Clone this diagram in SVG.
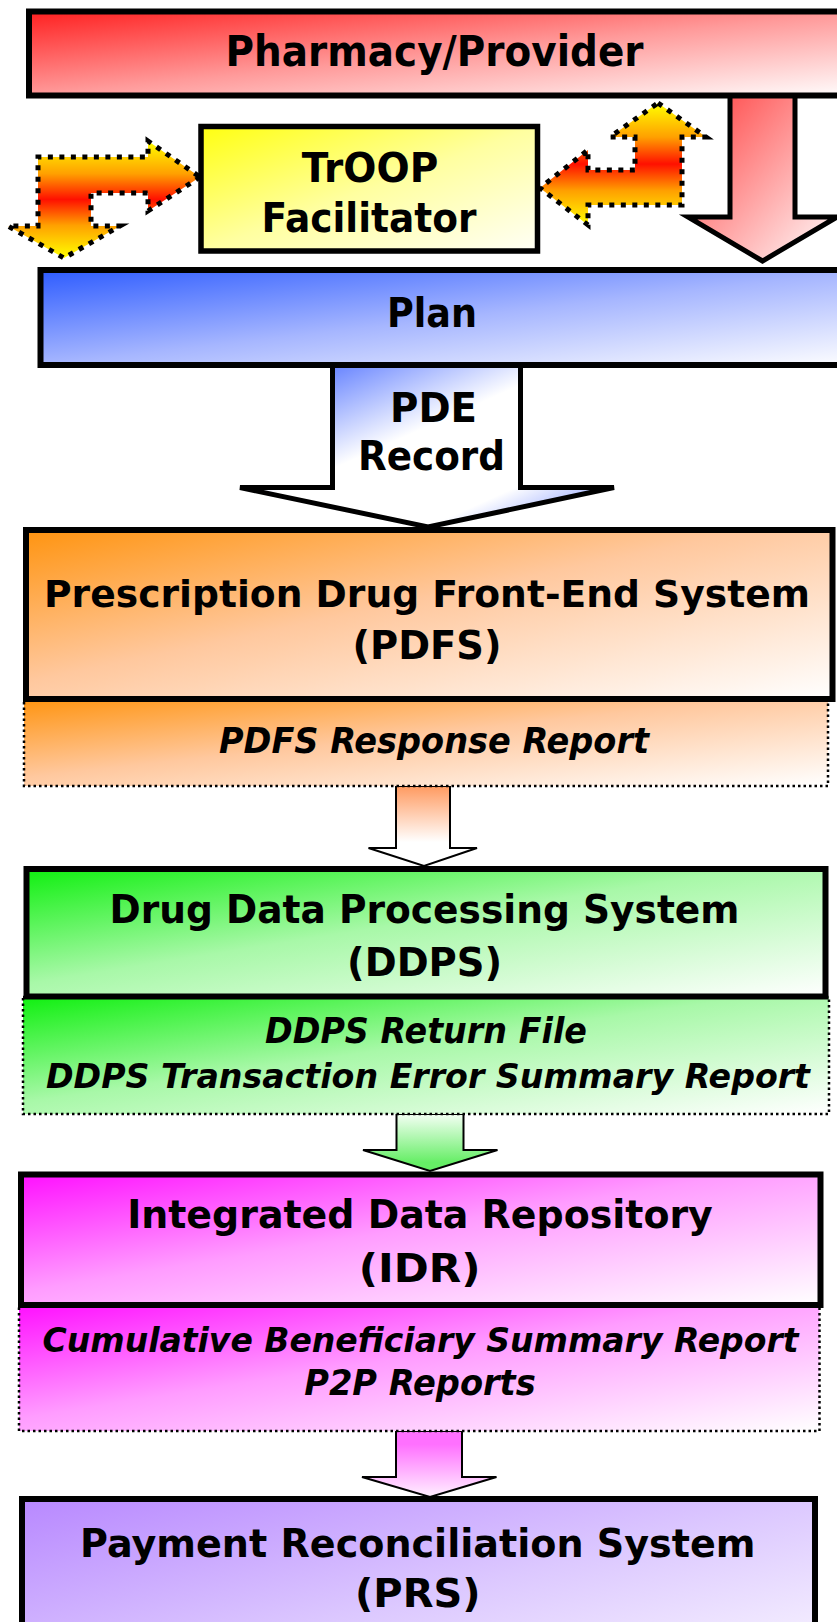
<svg xmlns="http://www.w3.org/2000/svg" width="837" height="1622" viewBox="0 0 837 1622">
  <defs>
    <linearGradient id="gRed" x1="0" y1="0" x2="1" y2="1">
      <stop offset="0" stop-color="#ff2020"/>
      <stop offset="0.5" stop-color="#ff9a9a"/>
      <stop offset="1" stop-color="#ffffff"/>
    </linearGradient>
    <linearGradient id="gRedArrow" x1="0" y1="0" x2="1" y2="1">
      <stop offset="0" stop-color="#ff3a3a"/>
      <stop offset="1" stop-color="#ffffff"/>
    </linearGradient>
    <linearGradient id="gYellow" x1="0" y1="0" x2="1" y2="1">
      <stop offset="0" stop-color="#ffff10"/>
      <stop offset="0.5" stop-color="#ffffa0"/>
      <stop offset="1" stop-color="#fffff6"/>
    </linearGradient>
    <linearGradient id="gBlue" x1="0" y1="0" x2="1" y2="1">
      <stop offset="0" stop-color="#2e5cff"/>
      <stop offset="0.5" stop-color="#a6b6ff"/>
      <stop offset="1" stop-color="#ffffff"/>
    </linearGradient>
    <linearGradient id="gBlueArrow" x1="0" y1="0" x2="1" y2="1">
      <stop offset="0.08" stop-color="#4a6cff"/>
      <stop offset="0.45" stop-color="#ffffff"/>
      <stop offset="0.75" stop-color="#ffffff"/>
      <stop offset="0.95" stop-color="#7f95ff"/>
    </linearGradient>
    <linearGradient id="gOrange" x1="0" y1="0" x2="1" y2="1">
      <stop offset="0" stop-color="#ff9410"/>
      <stop offset="0.45" stop-color="#ffc89e"/>
      <stop offset="1" stop-color="#ffffff"/>
    </linearGradient>
    <linearGradient id="gGreen" x1="0" y1="0" x2="1" y2="1">
      <stop offset="0" stop-color="#10f010"/>
      <stop offset="0.45" stop-color="#a8f8a8"/>
      <stop offset="1" stop-color="#ffffff"/>
    </linearGradient>
    <linearGradient id="gMagenta" x1="0" y1="0" x2="1" y2="1">
      <stop offset="0" stop-color="#ff10ff"/>
      <stop offset="0.45" stop-color="#ff9cff"/>
      <stop offset="1" stop-color="#ffffff"/>
    </linearGradient>
    <linearGradient id="gPurple" x1="0" y1="0" x2="1" y2="1">
      <stop offset="0" stop-color="#b888ff"/>
      <stop offset="0.5" stop-color="#dcc8ff"/>
      <stop offset="1" stop-color="#ffffff"/>
    </linearGradient>
    <!-- yellow / red / yellow band for the facilitator exchange arrows -->
    <linearGradient id="gFlame" x1="0" y1="0" x2="0" y2="1">
      <stop offset="0" stop-color="#ffff00"/>
      <stop offset="0.28" stop-color="#ffa000"/>
      <stop offset="0.5" stop-color="#ff1000"/>
      <stop offset="0.72" stop-color="#ffa000"/>
      <stop offset="1" stop-color="#ffff00"/>
    </linearGradient>
    <linearGradient id="gSmallOrange" x1="0" y1="0" x2="0" y2="1">
      <stop offset="0" stop-color="#ff9a60"/>
      <stop offset="0.7" stop-color="#ffffff"/>
    </linearGradient>
    <linearGradient id="gSmallGreen" x1="0" y1="0" x2="0" y2="1">
      <stop offset="0" stop-color="#f4fff4"/>
      <stop offset="0.85" stop-color="#66ee66"/>
    </linearGradient>
    <linearGradient id="gSmallMagenta" x1="0" y1="0" x2="0" y2="1">
      <stop offset="0.2" stop-color="#ff70ff"/>
      <stop offset="1" stop-color="#fff0ff"/>
    </linearGradient>
  </defs>
  <style>
    .box { stroke: #000; stroke-width: 6; }
    .sub { stroke: #000; stroke-width: 2.5; stroke-dasharray: 2.5 3; }
    .big { stroke: #000; stroke-width: 5; stroke-linejoin: miter; }
    .small { stroke: #000; stroke-width: 2; stroke-linejoin: miter; }
    .flame { fill: url(#gFlame); stroke: #000; stroke-width: 5; stroke-dasharray: 5 6.5; stroke-linejoin: miter; stroke-miterlimit: 6; }
    text { font-family: "DejaVu Sans", "Liberation Sans", sans-serif; font-weight: bold; fill: #000; text-anchor: middle; }
    .t { font-size: 41px; }
    .p { font-size: 42px; }
    .m { font-size: 39.5px; }
    .w { font-size: 37.5px; }
    .i { font-size: 35px; font-style: italic; }
    .iw { font-size: 33px; font-style: italic; }
  </style>

  <!-- connectors -->
  <g id="connectors">
    <!-- Pharmacy/Provider to Plan -->
    <path class="big" fill="url(#gRedArrow)" d="M730,90 L730,217 L688,217 L762.5,261 L837,217 L795,217 L795,90 Z"/>
    <!-- PDE Record: Plan to PDFS -->
    <path class="big" fill="url(#gBlueArrow)" d="M332.5,360 L332.5,487.5 L240,487.5 L428,527 L614,487.5 L520.5,487.5 L520.5,360 Z"/>
    <!-- left exchange arrow -->
    <path class="flame" d="M200,177 L148,211 L148,193 L91,193 L91,226 L120,226 L64,258 L8,226 L38,226 L38,157 L148,157 L148,141 Z"/>
    <!-- right exchange arrow -->
    <path class="flame" d="M658,103 L706,137 L682,137 L682,205 L588,205 L588,225 L540,188 L588,150 L588,170 L635,170 L635,137 L610,137 Z"/>
    <!-- PDFS to DDPS -->
    <path class="small" fill="url(#gSmallOrange)" d="M396,786 L396,848 L368.5,848 L424,866 L477,848 L450,848 L450,786 Z"/>
    <!-- DDPS to IDR -->
    <path class="small" fill="url(#gSmallGreen)" d="M396.5,1114 L396.5,1150 L363,1150 L430,1171 L497.5,1150 L463.5,1150 L463.5,1114 Z"/>
    <!-- IDR to PRS -->
    <path class="small" fill="url(#gSmallMagenta)" d="M396,1431 L396,1477 L362,1477 L430,1497 L496.5,1477 L462,1477 L462,1431 Z"/>
  </g>

  <g id="pharmacy">
    <rect class="box" x="29" y="11.5" width="840" height="84" fill="url(#gRed)"/>
    <text class="p" x="434.5" y="65.5" textLength="418" lengthAdjust="spacingAndGlyphs">Pharmacy/Provider</text>
  </g>

  <g id="troop">
    <rect x="201" y="126.5" width="336.5" height="124.5" fill="url(#gYellow)" stroke="#000" stroke-width="5.5"/>
    <text class="t" x="370" y="181.7" textLength="136.5" lengthAdjust="spacingAndGlyphs">TrOOP</text>
    <text class="t" x="369" y="231.7" textLength="215" lengthAdjust="spacingAndGlyphs">Facilitator</text>
  </g>

  <g id="plan">
    <rect class="box" x="40.5" y="270" width="830" height="95" fill="url(#gBlue)"/>
    <text class="t" x="432" y="326.7" textLength="90" lengthAdjust="spacingAndGlyphs">Plan</text>
  </g>

  <g id="pde-label">
    <text class="t" x="433.5" y="421.7" textLength="87" lengthAdjust="spacingAndGlyphs">PDE</text>
    <text class="t" x="431.5" y="470" textLength="147" lengthAdjust="spacingAndGlyphs">Record</text>
  </g>

  <g id="pdfs">
    <rect class="sub" x="24" y="699" width="804" height="87" fill="url(#gOrange)"/>
    <rect class="box" x="26" y="530" width="806.5" height="169" fill="url(#gOrange)"/>
    <text class="w" x="427" y="607.3" textLength="766" lengthAdjust="spacingAndGlyphs">Prescription Drug Front-End System</text>
    <text class="m" x="427" y="659.3" textLength="149" lengthAdjust="spacingAndGlyphs">(PDFS)</text>
    <text class="i" x="434" y="753.3" textLength="430" lengthAdjust="spacingAndGlyphs">PDFS Response Report</text>
  </g>

  <g id="ddps">
    <rect class="sub" x="23" y="997" width="806" height="117" fill="url(#gGreen)"/>
    <rect class="box" x="26.5" y="869" width="799" height="127.5" fill="url(#gGreen)"/>
    <text class="m" x="424.5" y="923.3" textLength="630" lengthAdjust="spacingAndGlyphs">Drug Data Processing System</text>
    <text class="m" x="424.6" y="976" textLength="155" lengthAdjust="spacingAndGlyphs">(DDPS)</text>
    <text class="i" x="426" y="1043.3" textLength="322" lengthAdjust="spacingAndGlyphs">DDPS Return File</text>
    <text class="iw" x="428" y="1088.3" textLength="764" lengthAdjust="spacingAndGlyphs">DDPS Transaction Error Summary Report</text>
  </g>

  <g id="idr">
    <rect class="sub" x="19" y="1305" width="800.5" height="126" fill="url(#gMagenta)"/>
    <rect class="box" x="21" y="1174.5" width="799.5" height="130.5" fill="url(#gMagenta)"/>
    <text class="m" x="420" y="1228.3" textLength="585.7" lengthAdjust="spacingAndGlyphs">Integrated Data Repository</text>
    <text class="m" x="419.7" y="1281.7" textLength="121.7" lengthAdjust="spacingAndGlyphs">(IDR)</text>
    <text class="iw" x="420.5" y="1351.7" textLength="756" lengthAdjust="spacingAndGlyphs">Cumulative Beneficiary Summary Report</text>
    <text class="i" x="420" y="1395" textLength="231.5" lengthAdjust="spacingAndGlyphs">P2P Reports</text>
  </g>

  <g id="prs">
    <rect class="box" x="22" y="1499" width="793" height="200" fill="url(#gPurple)"/>
    <text class="m" x="417.8" y="1556.7" textLength="675.5" lengthAdjust="spacingAndGlyphs">Payment Reconciliation System</text>
    <text class="m" x="417.8" y="1606.5" textLength="125.5" lengthAdjust="spacingAndGlyphs">(PRS)</text>
  </g>
</svg>
